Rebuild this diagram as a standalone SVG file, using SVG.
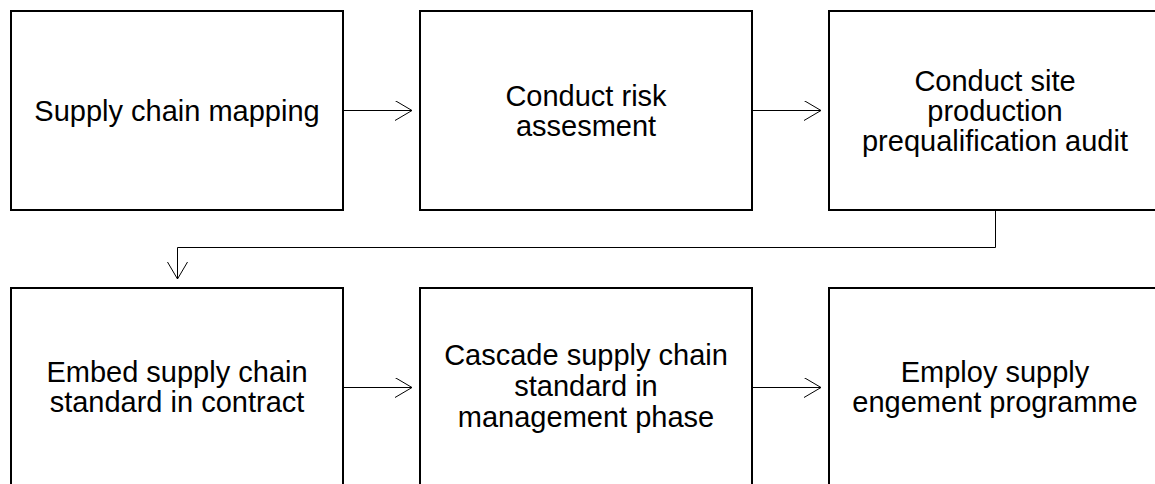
<svg xmlns="http://www.w3.org/2000/svg" width="1155" height="484" viewBox="0 0 1155 484">
  <style>
    .box { fill: #ffffff; stroke: #000000; stroke-width: 2; }
    .lbl { font-family: "Liberation Sans", Arial, sans-serif; font-size: 29px; fill: #000000; text-anchor: middle; }
    .edge { fill: none; stroke: #000000; stroke-width: 1; }
  </style>
  <defs>
    <marker id="open" markerWidth="20" markerHeight="24" refX="17" refY="10" orient="auto" markerUnits="userSpaceOnUse">
      <path d="M0,0 L17,10 L0,20" fill="none" stroke="#000000" stroke-width="1"/>
    </marker>
  </defs>
  <rect width="1155" height="484" fill="#ffffff"/>

  <g id="connectors">
    <path class="edge" d="M343,110.5 H412" marker-end="url(#open)"/>
    <path class="edge" d="M752,110.5 H821" marker-end="url(#open)"/>
    <path class="edge" d="M995.5,210 V247.5 H177.5 V279" marker-end="url(#open)"/>
    <path class="edge" d="M343,387.5 H412" marker-end="url(#open)"/>
    <path class="edge" d="M752,387.5 H821" marker-end="url(#open)"/>
  </g>

  <g id="node-mapping">
    <rect class="box" x="11" y="11" width="332" height="199"/>
    <text class="lbl" x="177" y="120.5">Supply chain mapping</text>
  </g>
  <g id="node-risk">
    <rect class="box" x="420" y="11" width="332" height="199"/>
    <text class="lbl" x="586" y="105.5">Conduct risk</text>
    <text class="lbl" x="586" y="135.5">assesment</text>
  </g>
  <g id="node-audit">
    <rect class="box" x="829" y="11" width="332" height="199"/>
    <text class="lbl" x="995" y="90.5">Conduct site</text>
    <text class="lbl" x="995" y="120.5">production</text>
    <text class="lbl" x="995" y="150.5">prequalification audit</text>
  </g>
  <g id="node-contract">
    <rect class="box" x="11" y="288" width="332" height="199"/>
    <text class="lbl" x="177" y="381.5">Embed supply chain</text>
    <text class="lbl" x="177" y="411.5">standard in contract</text>
  </g>
  <g id="node-cascade">
    <rect class="box" x="420" y="288" width="332" height="199"/>
    <text class="lbl" x="586" y="364.5">Cascade supply chain</text>
    <text class="lbl" x="586" y="395.5">standard in</text>
    <text class="lbl" x="586" y="426.5">management phase</text>
  </g>
  <g id="node-engagement">
    <rect class="box" x="829" y="288" width="332" height="199"/>
    <text class="lbl" x="995" y="381.5">Employ supply</text>
    <text class="lbl" x="995" y="411.5">engement programme</text>
  </g>
</svg>
